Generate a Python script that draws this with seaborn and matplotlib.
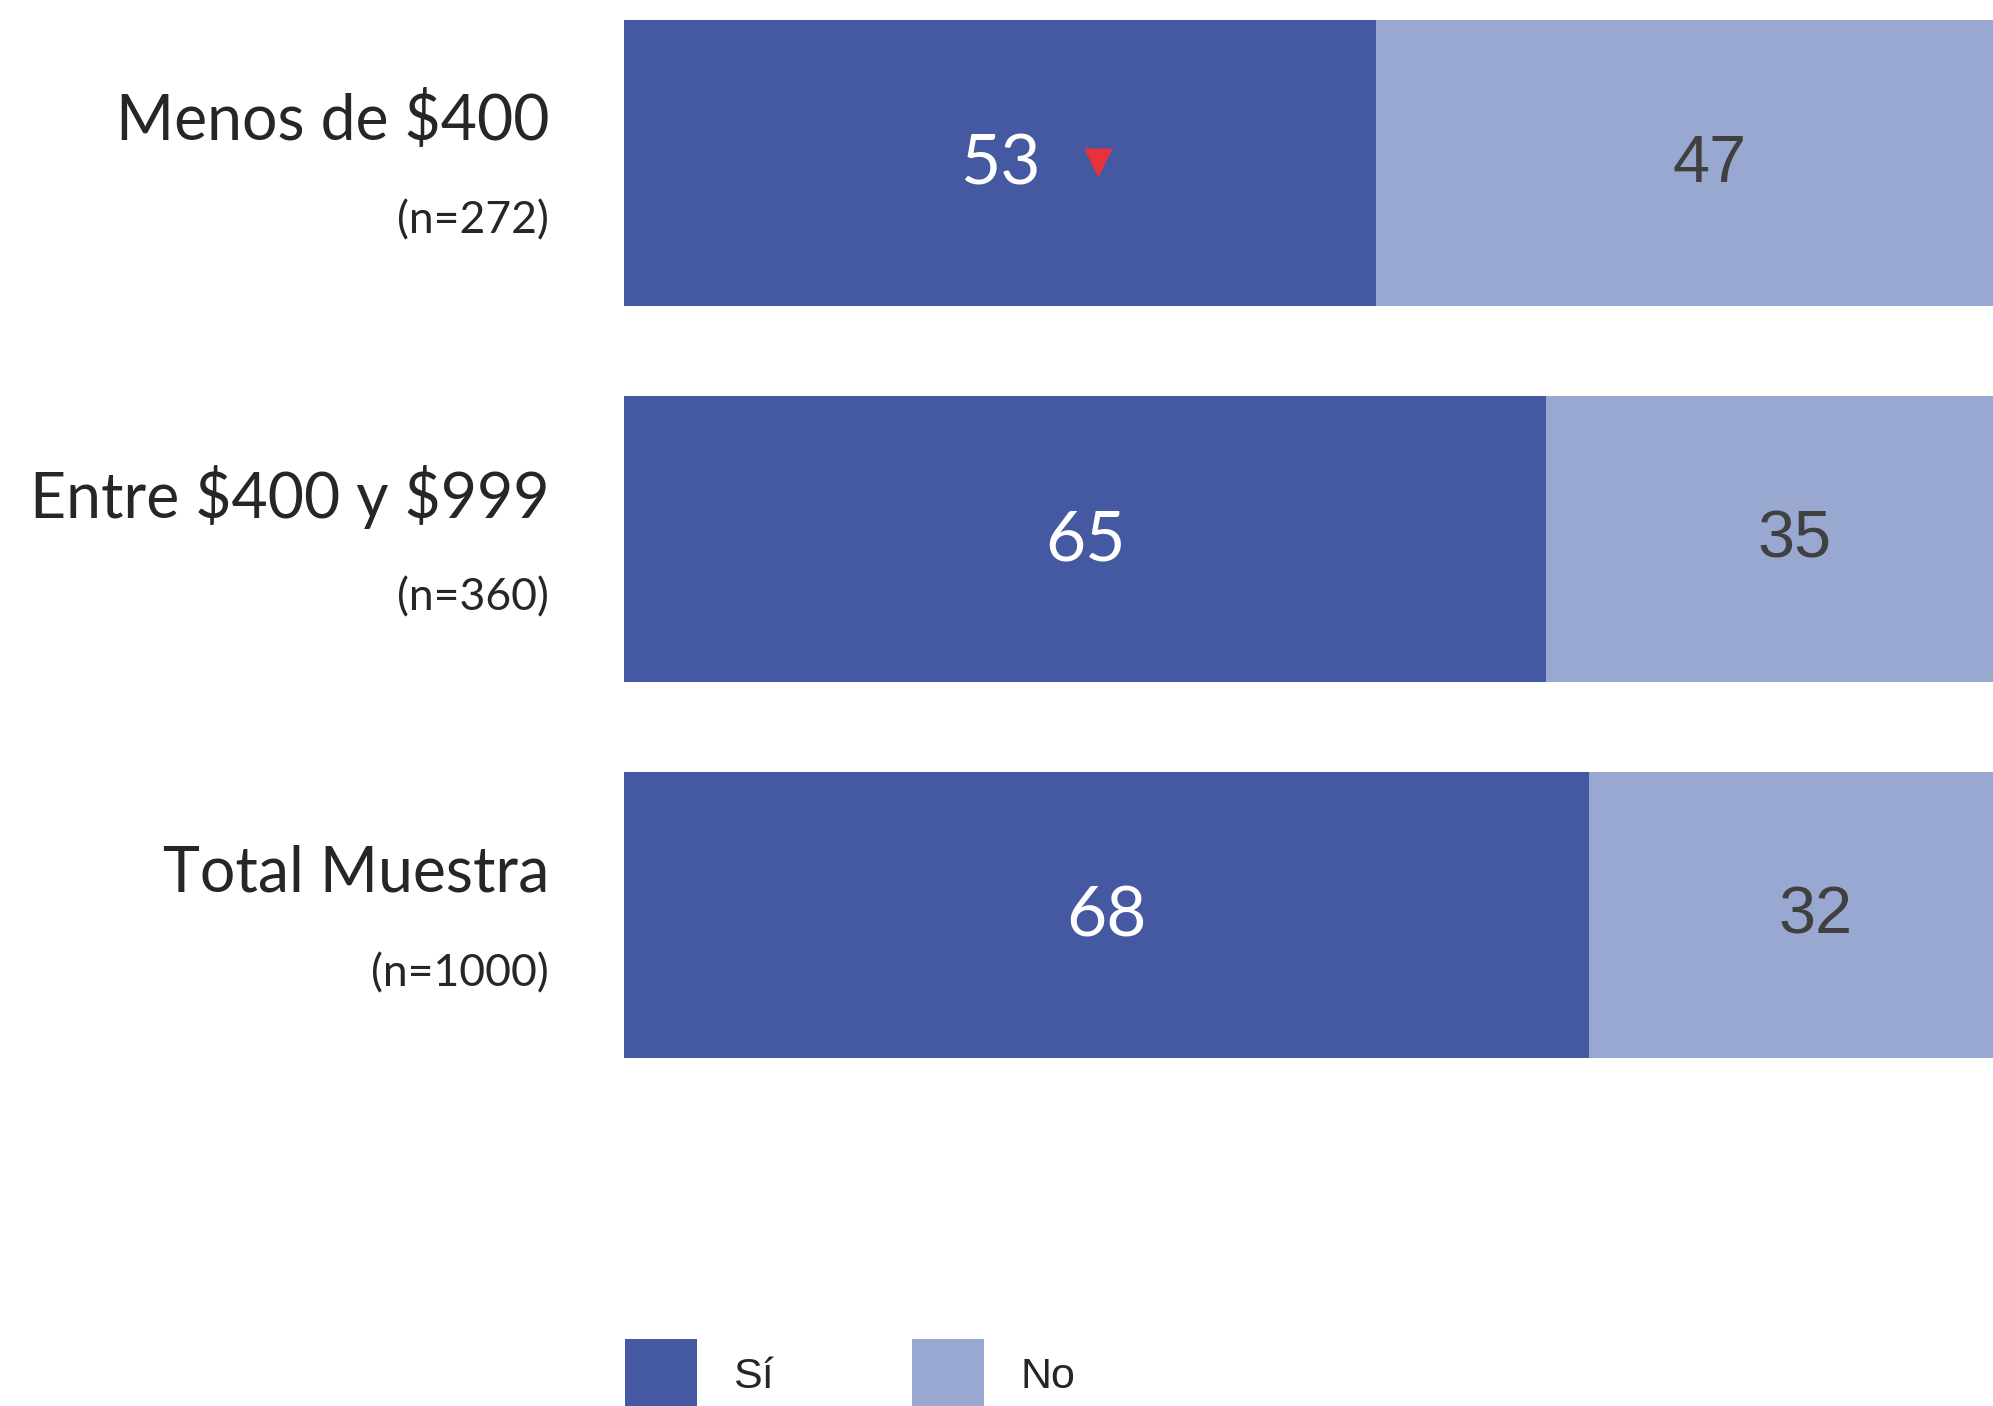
import pandas as pd
import seaborn as sns
import matplotlib.pyplot as plt
from matplotlib.patches import Patch

# Data
categories = ["Menos de $400", "Entre $400 y $999", "Total Muestra"]
sample_sizes = ["(n=272)", "(n=360)", "(n=1000)"]
si_values = [53, 65, 68]
no_values = [47, 35, 32]
alerts = [True, False, False]
legend_labels = ["Sí", "No"]

dark = "#4559A3"
light = "#99A8D0"

df = pd.DataFrame({"grupo": categories, "si": si_values, "no": no_values})
df["total"] = df["si"] + df["no"]

sns.set_style("white")
plt.rcParams["text.parse_math"] = False  # keep the $ signs literal

fig = plt.figure(figsize=(19.93, 14.06), dpi=100)
ax = fig.add_axes([0.3131, 0.2176, 0.6869, 0.7824])

# stacked bars: full bar in light colour, "Sí" part on top in dark colour
sns.barplot(data=df, y="grupo", x="total", color=light, width=0.76,
            saturation=1, orient="h", linewidth=0, ax=ax)
sns.barplot(data=df, y="grupo", x="si", color=dark, width=0.76,
            saturation=1, orient="h", linewidth=0, ax=ax)

ax.set_xlim(0, 96.5)
ax.set_ylim(2.492, -0.4335)
ax.axis("off")

for i, (cat, n, s, no) in enumerate(zip(categories, sample_sizes, si_values, no_values)):
    ax.annotate(cat, xy=(0, i), xycoords=ax.get_yaxis_transform(),
                xytext=(-54, 30), textcoords="offset points",
                ha="right", va="center", fontsize=45, family="Lato", color="#262626")
    ax.annotate(n, xy=(0, i), xycoords=ax.get_yaxis_transform(),
                xytext=(-54, -42), textcoords="offset points",
                ha="right", va="center", fontsize=32, family="Lato", color="#262626")
    ax.text(s / 2, i + 0.005, str(s), ha="center", va="center",
            fontsize=50, family="Lato", color="white")
    ax.text(s + no / 2, i + 0.005, str(no), ha="center", va="center",
            fontsize=48, family="Liberation Sans", color="#404040")
    if alerts[i]:
        ax.annotate("▼", xy=(s / 2, i), xytext=(71, 0), textcoords="offset points",
                    ha="center", va="center", fontsize=27, family="DejaVu Sans",
                    color="#E8313A")

handles = [Patch(facecolor=dark, linewidth=0), Patch(facecolor=light, linewidth=0)]
leg = fig.legend(handles=handles, labels=legend_labels, loc="upper left",
                 bbox_to_anchor=(0.3136, 0.0477), ncol=2, frameon=False,
                 prop={"family": "Liberation Sans", "size": 31},
                 handlelength=1.67, handleheight=2.2, handletextpad=0.85,
                 columnspacing=3.2, borderpad=0, borderaxespad=0)
for t in leg.get_texts():
    t.set_color("#262626")

fig.savefig("out.png", dpi=100)
